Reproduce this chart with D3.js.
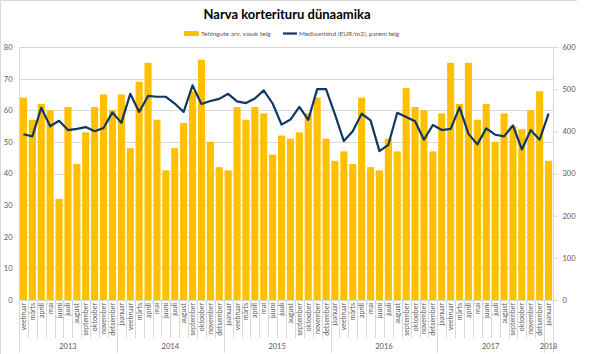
<!DOCTYPE html>
<html>
<head>
<meta charset="utf-8">
<script src="https://cdn.jsdelivr.net/npm/d3@7"></script>
<style>
  body { margin: 0; background: #fff; }
  svg { display: block; font-family: Lato, "Open Sans", sans-serif; }
</style>
</head>
<body>
<div id="chart"></div>
<script>
const monthLabels = [
    "veebruar", "märts", "aprill", "mai", "juuni", "juuli", "august", "september", "oktoober", "november", "detsember",
    "jaanuar", "veebruar", "märts", "aprill", "mai", "juuni", "juuli", "august", "september", "oktoober", "november", "detsember",
    "jaanuar", "veebruar", "märts", "aprill", "mai", "juuni", "juuli", "august", "september", "oktoober", "november", "detsember",
    "jaanuar", "veebruar", "märts", "aprill", "mai", "juuni", "juuli", "august", "september", "oktoober", "november", "detsember",
    "jaanuar", "veebruar", "märts", "aprill", "mai", "juuni", "juuli", "august", "september", "oktoober", "november", "detsember",
    "jaanuar"
];
const yearLabels = ["2013", "2014", "2015", "2016", "2017", "2018"];
const yearMonths = [11, 12, 12, 12, 12, 1];

// Tehingute arv (left axis)
const deals = [
    64, 57, 62, 60, 32, 61, 43, 53, 61, 65, 60,
    65, 48, 69, 75, 57, 41, 48, 56, 66, 76, 50, 42,
    41, 61, 57, 61, 59, 46, 52, 51, 53, 59, 64, 51,
    44, 47, 43, 64, 42, 41, 51, 47, 67, 61, 60, 47,
    59, 75, 62, 75, 57, 62, 50, 59, 55, 54, 60, 66,
    44
];
// Mediaanhind EUR/m2 (right axis)
const medianPrice = [
    393, 388, 456, 412, 425, 403, 406, 410, 400, 408, 445,
    420, 489, 446, 484, 482, 482, 466, 446, 509, 465, 472, 477,
    489, 471, 467, 478, 497, 466, 416, 428, 458, 427, 500, 500,
    440, 377, 400, 442, 426, 353, 368, 444, 434, 424, 380, 415,
    403, 406, 457, 394, 369, 407, 392, 388, 414, 357, 403, 380,
    442
];
const leftTicks = [0, 10, 20, 30, 40, 50, 60, 70, 80];
const rightTicks = [0, 100, 200, 300, 400, 500, 600];

const width = 597, height = 354;
const plot = { left: 19, right: 553, top: 47, bottom: 300 };
const gridColor = "#d9d9d9", textColor = "#595959";

const svg = d3.select("#chart").append("svg")
    .attr("width", width)
    .attr("height", height);

// frame
svg.append("path")
    .attr("d", "M0.5,354 V0.5 H577")
    .attr("fill", "none")
    .attr("stroke", gridColor);

const idx = d3.range(monthLabels.length);

const x = d3.scaleBand()
    .domain(idx)
    .range([plot.left, plot.right])
    .paddingInner(0.2)
    .paddingOuter(0.1);

const yLeft = d3.scaleLinear().domain([0, 80]).range([plot.bottom, plot.top]);
const yRight = d3.scaleLinear().domain([0, 600]).range([plot.bottom, plot.top]);

// gridlines
svg.append("g")
    .selectAll("line")
    .data(leftTicks)
    .join("line")
    .attr("x1", plot.left).attr("x2", plot.right)
    .attr("y1", d => Math.round(yLeft(d)) + 0.5)
    .attr("y2", d => Math.round(yLeft(d)) + 0.5)
    .attr("stroke", gridColor);

// left axis
const leftAxis = svg.append("g")
    .attr("transform", `translate(${plot.left + 0.5},0)`)
    .call(d3.axisLeft(yLeft).tickValues(leftTicks).tickSize(0).tickPadding(7));
leftAxis.select(".domain").attr("stroke", gridColor).attr("d", `M0,${plot.top}V${plot.bottom}`);
leftAxis.selectAll("text").attr("fill", textColor).style("font-size", "7.5px").style("font-family", "Lato, sans-serif");

// right axis
const rightAxis = svg.append("g")
    .attr("transform", `translate(${plot.right + 0.5},0)`)
    .call(d3.axisRight(yRight).tickValues(rightTicks).tickSize(5).tickPadding(4));
rightAxis.select(".domain").attr("stroke", gridColor).attr("d", `M0,${plot.top}V${plot.bottom}`);
rightAxis.selectAll(".tick line").attr("stroke", gridColor);
rightAxis.selectAll("text").attr("fill", textColor).style("font-size", "7.5px").style("font-family", "Lato, sans-serif");

// bars
svg.append("g")
    .selectAll("rect")
    .data(deals)
    .join("rect")
    .attr("x", (d, i) => x(i))
    .attr("width", x.bandwidth())
    .attr("y", d => yLeft(d))
    .attr("height", d => yLeft(0) - yLeft(d))
    .attr("fill", "#ffc000");

// line
const line = d3.line()
    .x((d, i) => x(i) + x.bandwidth() / 2)
    .y(d => yRight(d));

svg.append("path")
    .datum(medianPrice)
    .attr("d", line)
    .attr("fill", "none")
    .attr("stroke", "#0e3764")
    .attr("stroke-width", 2.2)
    .attr("stroke-linejoin", "round");

// category boundary between month i-1 and i
const boundary = i => {
    if (i === 0) return plot.left;
    if (i >= monthLabels.length) return plot.right;
    return x(i) - x.step() * x.paddingInner() / 2;
};

// category axis: month separators and labels
const cat = svg.append("g");
cat.selectAll("line.month")
    .data(d3.range(monthLabels.length + 1))
    .join("line")
    .attr("class", "month")
    .attr("x1", i => Math.round(boundary(i)) + 0.5)
    .attr("x2", i => Math.round(boundary(i)) + 0.5)
    .attr("y1", plot.bottom)
    .attr("y2", 338)
    .attr("stroke", gridColor);

cat.selectAll("text.month")
    .data(monthLabels)
    .join("text")
    .attr("class", "month")
    .attr("transform", (d, i) => `translate(${x(i) + x.bandwidth() / 2 + 2.5},303) rotate(-90)`)
    .attr("text-anchor", "end")
    .attr("fill", textColor)
    .style("font-size", "7px")
    .text(d => d);

// year separators and labels
const yearStart = d3.cumsum([0].concat(yearMonths));
cat.selectAll("line.year")
    .data(yearStart)
    .join("line")
    .attr("class", "year")
    .attr("x1", d => Math.round(boundary(d)) + 0.5)
    .attr("x2", d => Math.round(boundary(d)) + 0.5)
    .attr("y1", plot.bottom)
    .attr("y2", 353)
    .attr("stroke", gridColor);

cat.selectAll("text.year")
    .data(yearLabels)
    .join("text")
    .attr("class", "year")
    .attr("x", (d, i) => (boundary(yearStart[i]) + boundary(yearStart[i + 1])) / 2)
    .attr("y", 349)
    .attr("text-anchor", "middle")
    .attr("fill", textColor)
    .style("font-size", "7.5px")
    .text(d => d);

// title
svg.append("text")
    .attr("x", 287)
    .attr("y", 19)
    .attr("text-anchor", "middle")
    .attr("fill", "#000")
    .style("font-size", "13px")
    .style("font-weight", "bold")
    .text("Narva korterituru dünaamika");

// legend
const legend = svg.append("g");
legend.append("rect")
    .attr("x", 184).attr("y", 31)
    .attr("width", 15).attr("height", 5)
    .attr("fill", "#ffc000");
legend.append("text")
    .attr("x", 201).attr("y", 36)
    .attr("fill", textColor)
    .style("font-size", "6.5px")
    .text("Tehingute arv, vasak telg");
legend.append("line")
    .attr("x1", 283).attr("x2", 297)
    .attr("y1", 33.5).attr("y2", 33.5)
    .attr("stroke", "#0e3764")
    .attr("stroke-width", 2.2);
legend.append("text")
    .attr("x", 299).attr("y", 36)
    .attr("fill", textColor)
    .style("font-size", "6.5px")
    .text("Mediaanhind (EUR/m2), parem telg");
</script>
</body>
</html>
